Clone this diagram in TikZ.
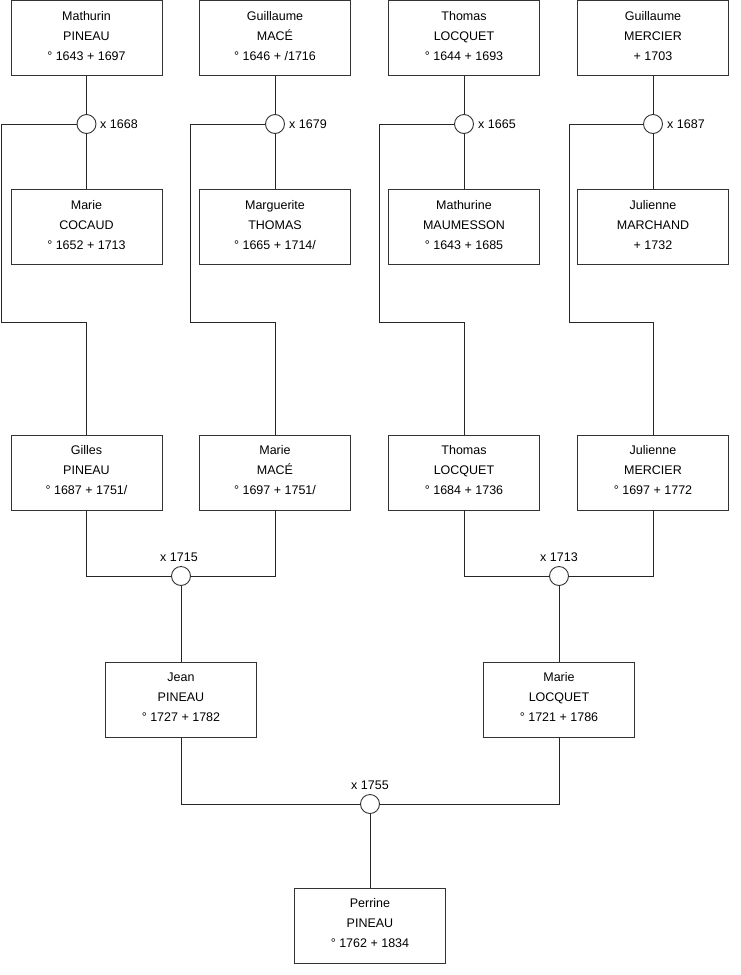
\documentclass[tikz,border=0pt]{standalone}
\usepackage{fontspec}
\setmainfont{Liberation Sans}
\newcommand\personnode[3]{%
  \node[personbox] (#1) at (#2) {};
  \node[persontext] (#1t) at ([yshift=2pt]#1.center) {#3};}
\begin{document}
\begin{tikzpicture}[x=1pt,y=-1pt,
  personbox/.style={draw=black!80,line width=0.9pt,rectangle,minimum width=151pt,minimum height=75pt,inner sep=0pt},
  persontext/.style={align=center,inner sep=0pt,font=\fontsize{12.5}{20}\selectfont},
  union/.style={draw=black!80,line width=0.9pt,circle,minimum size=19pt,inner sep=0pt,fill=white},
  lbl/.style={font=\fontsize{12.5}{15}\selectfont,inner sep=0pt},
  conn/.style={draw=black!85,line width=0.9pt}]
\useasboundingbox (0,0) rectangle (740,975);
% top row
\personnode{p1}{86.5,38}{Mathurin\\PINEAU\\° 1643 + 1697}
\personnode{p2}{275,38}{Guillaume\\MACÉ\\° 1646 + /1716}
\personnode{p3}{464,38}{Thomas\\LOCQUET\\° 1644 + 1693}
\personnode{p4}{653,38}{Guillaume\\MERCIER\\+ 1703}
% second row
\personnode{w1}{86.5,227}{Marie\\COCAUD\\° 1652 + 1713}
\personnode{w2}{275,227}{Marguerite\\THOMAS\\° 1665 + 1714/}
\personnode{w3}{464,227}{Mathurine\\MAUMESSON\\° 1643 + 1685}
\personnode{w4}{653,227}{Julienne\\MARCHAND\\+ 1732}
% unions row 1
\node[union] (u1) at (86.5,124) {};
\node[union] (u2) at (275,124) {};
\node[union] (u3) at (464,124) {};
\node[union] (u4) at (653,124) {};
\node[lbl,anchor=west] (t1) at (100,124) {x 1668};
\node[lbl,anchor=west] (t2) at (289,124) {x 1679};
\node[lbl,anchor=west] (t3) at (478,124) {x 1665};
\node[lbl,anchor=west] (t4) at (667,124) {x 1687};
% third row
\personnode{c1}{86.5,472.5}{Gilles\\PINEAU\\° 1687 + 1751/}
\personnode{c2}{275,472.5}{Marie\\MACÉ\\° 1697 + 1751/}
\personnode{c3}{464,472.5}{Thomas\\LOCQUET\\° 1684 + 1736}
\personnode{c4}{653,472.5}{Julienne\\MERCIER\\° 1697 + 1772}
% unions row 2
\node[union] (u5) at (181,576) {};
\node[union] (u6) at (559,576) {};
\node[lbl] (t5) at (179,557) {x 1715};
\node[lbl] (t6) at (559,557) {x 1713};
% fourth row
\personnode{d1}{181,699.5}{Jean\\PINEAU\\° 1727 + 1782}
\personnode{d2}{559,699.5}{Marie\\LOCQUET\\° 1721 + 1786}
\node[union] (u7) at (370,804) {};
\node[lbl] (t7) at (370,785) {x 1755};
\personnode{e1}{370,925.5}{Perrine\\PINEAU\\° 1762 + 1834}
% corner coordinates
\coordinate (a1) at (1,124);   \coordinate (b1) at (1,322);
\coordinate (a2) at (190,124); \coordinate (b2) at (190,322);
\coordinate (a3) at (379,124); \coordinate (b3) at (379,322);
\coordinate (a4) at (569,124); \coordinate (b4) at (569,322);
% connectors
\foreach \i in {1,2,3,4}{
  \draw[conn] (p\i.south) -- (u\i.north);
  \draw[conn] (u\i.south) -- (w\i.north);
  \draw[conn] (u\i.west) -- (a\i) -- (b\i) -| (c\i.north);
}
\draw[conn] (c1.south) |- (u5.west);
\draw[conn] (c2.south) |- (u5.east);
\draw[conn] (u5.south) -- (d1.north);
\draw[conn] (c3.south) |- (u6.west);
\draw[conn] (c4.south) |- (u6.east);
\draw[conn] (u6.south) -- (d2.north);
\draw[conn] (d1.south) |- (u7.west);
\draw[conn] (d2.south) |- (u7.east);
\draw[conn] (u7.south) -- (e1.north);
\end{tikzpicture}
\end{document}
